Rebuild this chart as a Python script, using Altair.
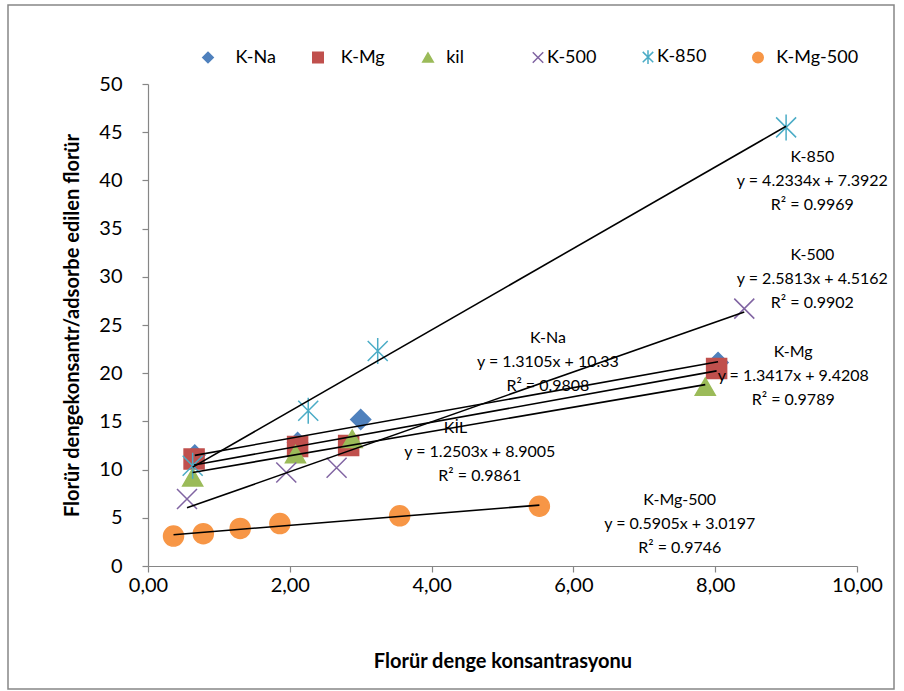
import altair as alt
import pandas as pd

# ---------------- data ----------------
series = ["K-Na", "K-Mg", "kil", "K-500", "K-850", "K-Mg-500"]
colors = ["#4F81BD", "#C0504D", "#9BBB59", "#8064A2", "#4BACC6", "#F79646"]
fills = ["#4F81BD", "#C0504D", "#9BBB59", "transparent", "transparent", "#F79646"]
shapes = ["diamond", "square", "triangle-up",
          "M-1,-1L1,1M-1,1L1,-1",
          "M-1,-1L1,1M-1,1L1,-1M0,-1.3L0,1.3",
          "circle"]

kna_x = [0.66, 2.11, 3.00, 8.04]
kna_y = [11.5, 12.8, 15.2, 21.1]
kmg_x = [0.65, 2.11, 2.83, 8.02]
kmg_y = [11.1, 12.4, 12.5, 20.5]
kil_x = [0.63, 2.08, 2.88, 7.86]
kil_y = [9.2, 11.6, 13.2, 18.6]
k500_x = [0.55, 1.95, 2.66, 8.41]
k500_y = [6.95, 9.7, 10.2, 26.7]
k850_x = [0.63, 2.26, 3.24, 9.00]
k850_y = [10.4, 16.1, 22.3, 45.5]
kmg500_x = [0.36, 0.78, 1.30, 1.86, 3.55, 5.52]
kmg500_y = [3.1, 3.35, 3.9, 4.4, 5.2, 6.2]

xs = [kna_x, kmg_x, kil_x, k500_x, k850_x, kmg500_x]
ys = [kna_y, kmg_y, kil_y, k500_y, k850_y, kmg500_y]

ZW = "\u200b"
NB = "\u00a0"

# trendline annotations
ann_names = ["K-850", "K-500", "K-Na", "K-Mg", "KİL" + NB * 12 + ZW, "K-Mg-500"]
ann_eq = ["y = 4.2334x + 7.3922", "y = 2.5813x + 4.5162", "y = 1.3105x + 10.33",
          "y = 1.3417x + 9.4208", "y = 1.2503x + 8.9005", "y = 0.5905x + 3.0197"]
ann_r2 = ["R² = 0.9969", "R² = 0.9902", "R² = 0.9808",
          "R² = 0.9789", "R² = 0.9861", "R² = 0.9746"]
ann_x = [9.37, 9.37, 5.64, 9.10, 4.68, 7.50]
ann_y = [42.4, 32.3, 23.65, 22.2, 14.3, 6.85]

x_ticks = [0, 2, 4, 6, 8, 10]
y_ticks = [0, 5, 10, 15, 20, 25, 30, 35, 40, 45, 50]

# ---------------- build tables ----------------
rows = []
for s, xv, yv in zip(series, xs, ys):
    for a, b in zip(xv, yv):
        rows.append({"series": s, "x": a, "y": b})
pts = pd.DataFrame(rows)

ann = pd.DataFrame({
    "text": [f"{n}\n{e}\n{r}" for n, e, r in zip(ann_names, ann_eq, ann_r2)],
    "x": ann_x, "y": ann_y,
})

FONT = "Lato"
W, H = 709, 482
PAD_L, PAD_T = 148, 84

xscale = alt.Scale(domain=[0, 10], nice=False)
yscale = alt.Scale(domain=[0, 50], nice=False)

label_expr = (
    f"datum.label == 'K-Na' ? '{ZW + NB*4}' + datum.label : "
    f"datum.label == 'K-Mg' ? '{ZW + NB*3}' + datum.label : "
    f"datum.label == 'kil' ? '{ZW + NB*2}' + datum.label : "
    f"datum.label == 'K-Mg-500' ? '{ZW + NB*2}' + datum.label : datum.label"
)

leg = alt.Legend(
    title=None, orient="none", legendX=51, legendY=-36, direction="horizontal",
    columns=6, gridAlign="all", columnPadding=0, symbolSize=110,
    symbolStrokeWidth=1.5, labelFont=FONT, labelFontSize=18, labelColor="#000000",
    labelOffset=0, labelExpr=label_expr, padding=0, labelLimit=250,
)

base_x = alt.X("x:Q", scale=xscale, axis=alt.Axis(
    title="Florür denge konsantrasyonu", values=x_ticks,
    labelExpr="replace(format(datum.value, '.2f'), '.', ',')",
    labelFlush=False, titlePadding=56, labelPadding=3))
base_y = alt.Y("y:Q", scale=yscale, axis=alt.Axis(
    title="Florür dengekonsantr/adsorbe edilen florür", values=y_ticks,
    labelFlush=False, titlePadding=16, labelPadding=20))

points = alt.Chart(pts).mark_point(size=400, strokeWidth=1.5, opacity=1).encode(
    x=base_x, y=base_y,
    shape=alt.Shape("series:N", sort=series, scale=alt.Scale(domain=series, range=shapes), legend=leg),
    stroke=alt.Stroke("series:N", sort=series, scale=alt.Scale(domain=series, range=colors), legend=leg),
    fill=alt.Fill("series:N", sort=series, scale=alt.Scale(domain=series, range=fills), legend=leg),
)

lines = alt.Chart(pts).transform_regression(
    "x", "y", groupby=["series"]
).mark_line(color="#000000", strokeWidth=1.6).encode(
    x=alt.X("x:Q", scale=xscale), y=alt.Y("y:Q", scale=yscale), detail="series:N"
)

labels = alt.Chart(ann).mark_text(
    font=FONT, fontSize=16, color="#000000", align="center", baseline="middle",
    lineBreak="\n", lineHeight=24
).encode(x=alt.X("x:Q", scale=xscale), y=alt.Y("y:Q", scale=yscale), text="text:N")

frame = alt.Chart(pd.DataFrame({"a": [0]})).mark_rect(
    fill=None, stroke="#868686", strokeWidth=1.5
).encode(
    x=alt.value(8 - PAD_L), x2=alt.value(894 - PAD_L),
    y=alt.value(5 - PAD_T), y2=alt.value(689 - PAD_T)
)

chart = alt.layer(frame, points, lines, labels).properties(
    width=W, height=H,
    autosize=alt.AutoSizeParams(type="none"),
    padding={"left": PAD_L, "top": PAD_T, "right": 904 - PAD_L - W, "bottom": 691 - PAD_T - H},
    background="#ffffff",
).configure_view(stroke=None).configure_axis(
    grid=False, domainColor="#868686", tickColor="#868686", tickSize=6,
    labelFont=FONT, labelFontSize=20, labelColor="#000000",
    titleFont=FONT, titleFontSize=20, titleFontWeight="bold", titleColor="#000000",
    domainWidth=1.2, tickWidth=1.2,
)

chart.save("out.html", embed_options={"renderer": "svg", "actions": False})
